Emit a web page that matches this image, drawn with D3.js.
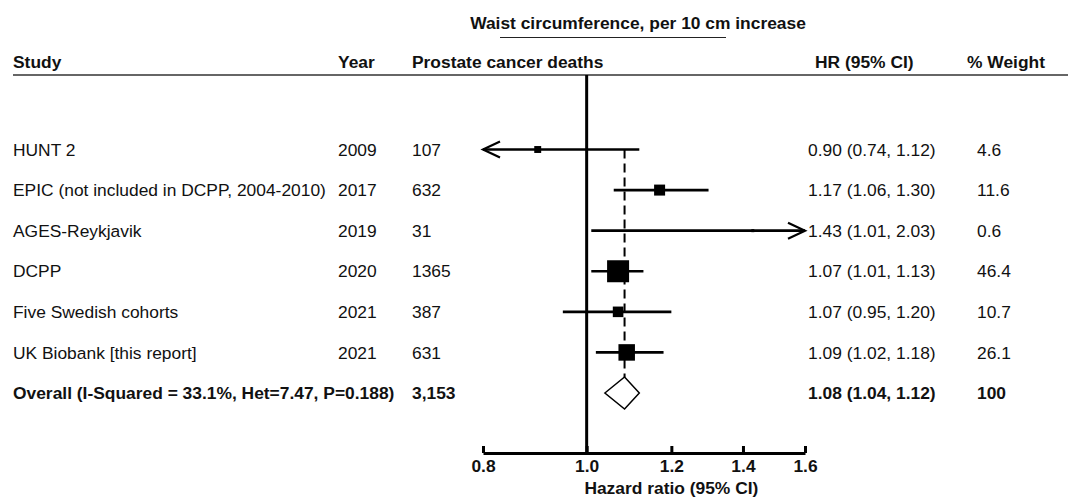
<!DOCTYPE html>
<html>
<head>
<meta charset="utf-8">
<script src="https://cdn.jsdelivr.net/npm/d3@7/dist/d3.min.js"></script>
<style>
  html, body { margin: 0; padding: 0; background: #fff; }
  svg text { font-family: "Liberation Sans", Arial, sans-serif; fill: #111; }
</style>
</head>
<body>
<svg id="chart" width="1068" height="502"></svg>
<script>
// ---- Data ----
const studies = ["HUNT 2", "EPIC (not included in DCPP, 2004-2010)", "AGES-Reykjavik", "DCPP", "Five Swedish cohorts", "UK Biobank [this report]"];
const years = ["2009", "2017", "2019", "2020", "2021", "2021"];
const deaths = ["107", "632", "31", "1365", "387", "631"];
const hr = [0.90, 1.17, 1.43, 1.07, 1.07, 1.09];
const lower = [0.74, 1.06, 1.01, 1.01, 0.95, 1.02];
const upper = [1.12, 1.30, 2.03, 1.13, 1.20, 1.18];
const weights = [4.6, 11.6, 0.6, 46.4, 10.7, 26.1];

const overallLabel = "Overall (I-Squared = 33.1%, Het=7.47, P=0.188)";
const overallDeaths = "3,153";
const overallHR = 1.085;       // diamond centre as drawn
const overallLower = 1.04;
const overallUpper = 1.12;
const overallText = "1.08 (1.04, 1.12)";
const overallWeight = "100";

const tickValues = [0.8, 1.0, 1.2, 1.4, 1.6];
const title = "Waist circumference, per 10 cm increase";
const headers = ["Study", "Year", "Prostate cancer deaths", "HR (95% CI)", "% Weight"];
const axisTitle = "Hazard ratio (95% CI)";

// ---- Layout ----
const svg = d3.select("#chart");
const fs = 17.4;
const colX = { study: 13, year: 338, deaths: 412, hr: 808, weight: 977 };
const headerX = [13, 338, 412, 815, 967];

const x = d3.scaleLog().domain([0.8, 1.6]).range([483, 805]);
const rows = d3.range(studies.length + 1);
const y = d3.scalePoint().domain(rows).range([149.5, 393]);
const size = d3.scaleSqrt().domain([0, 46.4]).range([0, 22]);

const axisY = 453;
const headerLineY = 75;

// Title + underline
svg.append("text").attr("x", 638).attr("y", 23).attr("dy", "0.35em")
  .attr("text-anchor", "middle").attr("font-weight", "bold").attr("font-size", fs).text(title);
svg.append("line").attr("x1", 500).attr("x2", 726).attr("y1", 37.5).attr("y2", 37.5)
  .attr("stroke", "#222").attr("stroke-width", 1.2);

// Header
svg.selectAll("text.hdr").data(headers).join("text").attr("class", "hdr")
  .attr("x", (d, i) => headerX[i]).attr("y", 62).attr("dy", "0.35em")
  .attr("font-weight", "bold").attr("font-size", fs).text(d => d);
svg.append("line").attr("x1", 13).attr("x2", 1068).attr("y1", headerLineY).attr("y2", headerLineY)
  .attr("stroke", "#333").attr("stroke-width", 1.4);

// Study rows text
const rowG = svg.selectAll("g.row").data(studies).join("g").attr("class", "row");
rowG.append("text").attr("x", colX.study).attr("y", (d, i) => y(i)).attr("dy", "0.35em").attr("font-size", fs).text(d => d);
rowG.append("text").attr("x", colX.year).attr("y", (d, i) => y(i)).attr("dy", "0.35em").attr("font-size", fs).text((d, i) => years[i]);
rowG.append("text").attr("x", colX.deaths).attr("y", (d, i) => y(i)).attr("dy", "0.35em").attr("font-size", fs).text((d, i) => deaths[i]);
rowG.append("text").attr("x", colX.hr).attr("y", (d, i) => y(i)).attr("dy", "0.35em").attr("font-size", fs)
  .text((d, i) => `${hr[i].toFixed(2)} (${lower[i].toFixed(2)}, ${upper[i].toFixed(2)})`);
rowG.append("text").attr("x", colX.weight).attr("y", (d, i) => y(i)).attr("dy", "0.35em").attr("font-size", fs)
  .text((d, i) => weights[i].toFixed(1));

// Overall row text
const oy = y(studies.length);
svg.append("text").attr("x", colX.study).attr("y", oy).attr("dy", "0.35em").attr("font-size", fs).attr("font-weight", "bold").text(overallLabel);
svg.append("text").attr("x", colX.deaths).attr("y", oy).attr("dy", "0.35em").attr("font-size", fs).attr("font-weight", "bold").text(overallDeaths);
svg.append("text").attr("x", colX.hr).attr("y", oy).attr("dy", "0.35em").attr("font-size", fs).attr("font-weight", "bold").text(overallText);
svg.append("text").attr("x", colX.weight).attr("y", oy).attr("dy", "0.35em").attr("font-size", fs).attr("font-weight", "bold").text(overallWeight);

// Null line at 1.0
svg.append("line").attr("x1", x(1)).attr("x2", x(1)).attr("y1", headerLineY).attr("y2", axisY)
  .attr("stroke", "#000").attr("stroke-width", 3);

// Dashed overall line
const diamondH = 16;
svg.append("line").attr("x1", x(overallHR)).attr("x2", x(overallHR))
  .attr("y1", y(0)).attr("y2", oy - diamondH)
  .attr("stroke", "#000").attr("stroke-width", 2).attr("stroke-dasharray", "9,5");

// CI lines with arrows
const [dMin, dMax] = x.domain();
studies.forEach((s, i) => {
  const yy = y(i);
  const lo = Math.max(lower[i], dMin), hi = Math.min(upper[i], dMax);
  svg.append("line").attr("x1", x(lo)).attr("x2", x(hi)).attr("y1", yy).attr("y2", yy)
    .attr("stroke", "#000").attr("stroke-width", 2.6);
  if (lower[i] < dMin) {
    const tx = x(dMin);
    svg.append("path").attr("d", `M${tx + 17},${yy - 8}L${tx},${yy}L${tx + 17},${yy + 8}`)
      .attr("fill", "none").attr("stroke", "#000").attr("stroke-width", 2.2);
  }
  if (upper[i] > dMax) {
    const tx = x(dMax);
    svg.append("path").attr("d", `M${tx - 17},${yy - 8}L${tx},${yy}L${tx - 17},${yy + 8}`)
      .attr("fill", "none").attr("stroke", "#000").attr("stroke-width", 2.2);
  }
  const sz = Math.max(size(weights[i]), 3);
  svg.append("rect").attr("x", x(hr[i]) - sz / 2).attr("y", yy - sz / 2)
    .attr("width", sz).attr("height", sz).attr("fill", "#000");
});

// Diamond
svg.append("path")
  .attr("d", `M${x(overallLower)},${oy}L${x(overallHR)},${oy - diamondH}L${x(overallUpper)},${oy}L${x(overallHR)},${oy + diamondH}Z`)
  .attr("fill", "#fff").attr("stroke", "#000").attr("stroke-width", 1.5);

// Axis
const axis = d3.axisBottom(x).tickValues(tickValues).tickFormat(d3.format(".1f"))
  .tickSizeInner(-7).tickSizeOuter(0);
const ag = svg.append("g").attr("transform", `translate(0,${axisY})`).call(axis);
ag.select(".domain").attr("stroke", "#000").attr("stroke-width", 3);
ag.selectAll(".tick line").attr("stroke", "#000").attr("stroke-width", 3);
ag.selectAll(".tick text").attr("y", 13).attr("dy", "0.35em")
  .attr("font-size", fs).attr("font-weight", "bold")
  .style("font-family", '"Liberation Sans", Arial, sans-serif').attr("fill", "#111");

svg.append("text").attr("x", x(1.2)).attr("y", 488).attr("dy", "0.35em").attr("text-anchor", "middle")
  .attr("font-size", fs).attr("font-weight", "bold").text(axisTitle);
</script>
</body>
</html>
